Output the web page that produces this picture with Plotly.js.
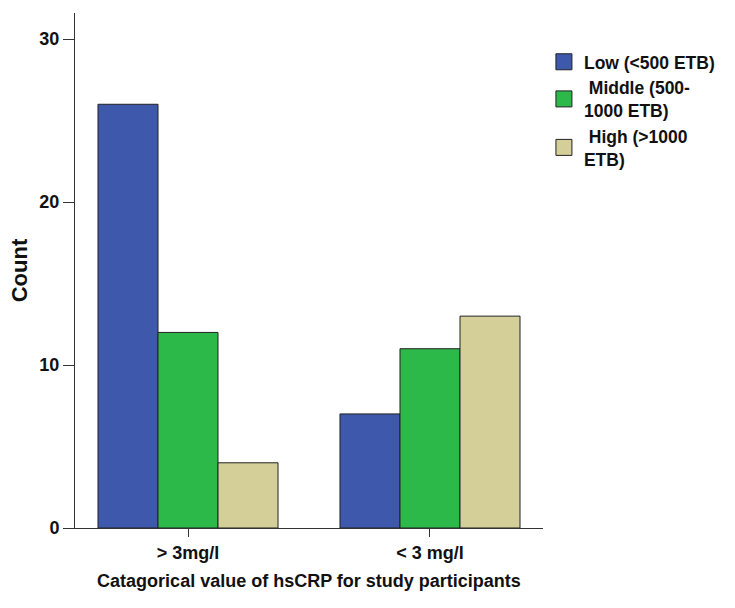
<!DOCTYPE html>
<html><head><meta charset="utf-8">
<script src="https://cdn.plot.ly/plotly-3.0.1.min.js"></script>
<style>body{margin:0;background:#fff}#chart{width:735px;height:608px}</style>
</head><body><div id="chart"></div>
<script>
var categories = ["> 3mg/l", "< 3 mg/l"];
var seriesNames = ["Low (<500 ETB)", " Middle (500-<br>1000 ETB)", " High (>1000<br>ETB)"];
var lowValues = [26, 7];
var middleValues = [12, 11];
var highValues = [4, 13];
var colors = ["#3e58ac", "#2db84a", "#d4cf98"];
var allValues = [lowValues, middleValues, highValues];

var traces = allValues.map(function(v, i){
  return {type:"bar", x:categories, y:v, name:seriesNames[i], showlegend:false,
    marker:{color:colors[i], line:{color:"#222", width:1}}};
});
// legend entries with larger square swatches
seriesNames.forEach(function(n, i){
  traces.push({type:"scatter", mode:"markers", x:[null], y:[null], name:n,
    marker:{symbol:"square", size:16, color:colors[i], line:{color:"#222", width:1}}});
});
var fam = "Liberation Sans, Arial, sans-serif";
var fnt = {family:fam, size:18, color:"#111", weight:"bold"};
var layout = {
  width:735, height:608, paper_bgcolor:"#fff", plot_bgcolor:"#fff",
  margin:{l:75, r:192, t:13, b:80},
  barmode:"group", bargap:0.256, bargroupgap:0,
  font:fnt,
  xaxis:{range:[-0.467,1.467], showline:true, linecolor:"#333", linewidth:1,
    ticks:"outside", ticklen:8, tickcolor:"#333", showgrid:false, zeroline:false,
    tickfont:fnt, title:{text:"Catagorical value of hsCRP for study participants", font:fnt, standoff:12}},
  yaxis:{range:[0,31.6], tickvals:[0,10,20,30], showline:true, linecolor:"#333", linewidth:1,
    ticks:"outside", ticklen:11, tickcolor:"#333", showgrid:false, zeroline:false,
    tickfont:fnt, title:{text:"Count", font:{family:fam, size:22, color:"#111", weight:"bold"}, standoff:5}},
  legend:{x:1.002, xanchor:"left", y:0.94, yanchor:"top", font:{family:fam, size:17.5, color:"#111", weight:"bold"}, tracegroupgap:0, itemwidth:30}
};
Plotly.newPlot("chart", traces, layout, {displayModeBar:false});
</script></body></html>
